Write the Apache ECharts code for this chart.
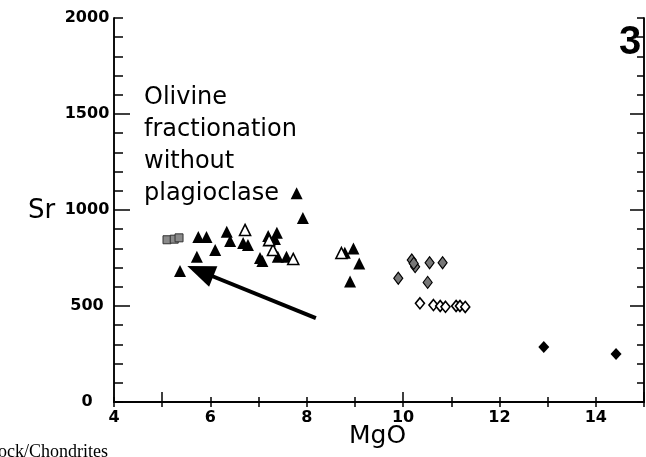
<!DOCTYPE html>
<html><head><meta charset="utf-8">
<script src="https://cdn.jsdelivr.net/npm/echarts@6/dist/echarts.min.js"></script>
<style>html,body{margin:0;padding:0;background:#fff}#c{width:646px;height:457px}</style>
</head><body><div id="c"></div>
<script>
// MgO (x), Sr (y)
const filledTriangles = [
  [5.37,682],[5.72,757],[6.10,792],[5.75,859],[5.92,859],[6.34,887],[6.41,838],
  [6.68,828],[6.78,818],[7.03,750],[7.08,735],[7.20,865],[7.38,882],[7.34,849],[7.40,757],
  [7.58,757],[7.79,1087],[7.92,958],[8.79,777],[8.97,800],[9.09,722],[8.90,627]
];
const openTriangles = [[6.72,896],[7.30,792],[7.72,745],[7.22,843],[8.72,776]];
const stippledSquares = [[5.10,845],[5.25,848],[5.35,855]];
const stippledDiamonds = [[10.18,740],[10.25,705],[10.22,722],[10.55,725],[10.82,725],[9.90,644],[10.51,623]];
const openDiamonds = [[10.35,514],[10.63,505],[10.77,500],[10.88,496],[11.10,500],[11.18,500],[11.29,495]];
const filledDiamonds = [[12.92,286],[14.42,250]];
const arrowFrom = [8.19,437];
const arrowTo = [5.79,681];
const xLabelValues = [4,6,8,10,12,14];
const yLabelValues = [0,500,1000,1500,2000];

const chart = echarts.init(document.getElementById('c'));
const grid = {left:114, right:2, top:18, bottom:55};
const blk = '#000';
function xAx(extra){return Object.assign({type:'value',min:4,max:15,interval:1,gridIndex:0,
  axisLine:{show:true,lineStyle:{color:blk,width:1.5}},splitLine:{show:false},
  axisTick:{show:true,inside:true,length:5,lineStyle:{color:blk,width:1.5}},axisLabel:{show:false}},extra);}
function yAx(extra){return Object.assign({type:'value',min:0,max:2000,interval:100,gridIndex:0,
  axisLine:{show:true,lineStyle:{color:blk,width:1.5}},splitLine:{show:false},
  axisTick:{show:true,inside:true,length:9,lineStyle:{color:blk,width:1.5}},axisLabel:{show:false}},extra);}

chart.setOption({
  animation:false,
  backgroundColor:'#fff',
  grid:grid,
  xAxis:[
    xAx({position:'bottom',axisLabel:{show:true,customValues:xLabelValues,formatter:v=>String(v),color:blk,fontFamily:'DejaVu Sans',fontSize:16,fontWeight:'bold',margin:8}}),
    xAx({position:'bottom',axisTick:{show:true,inside:true,length:10,customValues:[5,10,15],lineStyle:{color:blk,width:1.5}}}),
    xAx({position:'top'})
  ],
  yAxis:[
    yAx({position:'left',axisLabel:{show:true,customValues:yLabelValues,formatter:v=>String(v),color:blk,fontFamily:'DejaVu Sans',fontSize:16,fontWeight:'bold',align:'center',margin:27}}),
    yAx({position:'left',axisTick:{show:true,inside:true,length:16,customValues:[500,1000,1500],lineStyle:{color:blk,width:1.5}}}),
    yAx({position:'right',axisTick:{show:true,inside:true,length:7,lineStyle:{color:blk,width:1.5}}}),
    yAx({position:'right',axisTick:{show:true,inside:true,length:14,customValues:[500,1000,1500],lineStyle:{color:blk,width:1.5}}})
  ],
  series:[
    {type:'scatter',data:filledTriangles,symbol:'triangle',symbolSize:[12,12],itemStyle:{color:blk,opacity:1},
     markLine:{silent:true,symbol:['none','triangle'],symbolSize:[22,28],label:{show:false},
       lineStyle:{color:blk,width:4,type:'solid'},
       data:[[{coord:arrowFrom},{coord:arrowTo}]]}},
    {type:'scatter',data:openTriangles,symbol:'triangle',symbolSize:[11,11],itemStyle:{color:'#fff',borderColor:blk,borderWidth:1.6,opacity:1}},
    {type:'scatter',data:stippledSquares,symbol:'rect',symbolSize:[8,8],itemStyle:{color:'#8a8a8a',borderColor:'#333',borderWidth:1,opacity:1}},
    {type:'scatter',data:stippledDiamonds,symbol:'diamond',symbolSize:[9,12],itemStyle:{color:'#777',borderColor:blk,borderWidth:1.2,opacity:1}},
    {type:'scatter',data:openDiamonds,symbol:'diamond',symbolSize:[9,11],itemStyle:{color:'#fff',borderColor:blk,borderWidth:1.6,opacity:1}},
    {type:'scatter',data:filledDiamonds,symbol:'diamond',symbolSize:[11,12],itemStyle:{color:blk,opacity:1}}
  ],
  graphic:[
    {type:'text',left:28,top:198,style:{text:'Sr',font:'26px "DejaVu Sans"',fill:blk}},
    {type:'text',left:349,top:424,style:{text:'MgO',font:'25px "DejaVu Sans"',fill:blk}},
    {type:'text',left:619,top:23,style:{text:'3',font:'bold 40px "Liberation Sans"',fill:blk}},
    {type:'text',left:-2,top:443,style:{text:'ock/Chondrites',font:'18px "Liberation Serif"',fill:blk}},
    {type:'text',left:144,top:82,style:{text:'Olivine\nfractionation\nwithout\nplagioclase',font:'24px "DejaVu Sans"',lineHeight:32,fill:blk}}
  ]
});
</script></body></html>
